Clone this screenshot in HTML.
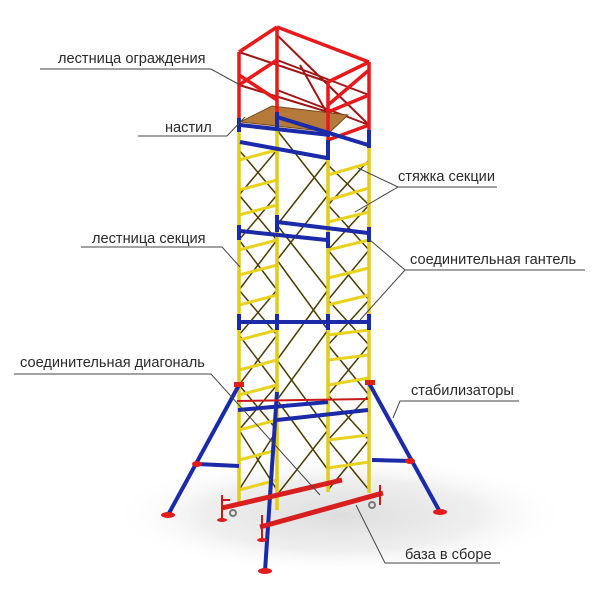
<!DOCTYPE html>
<html><head><meta charset="utf-8"><style>
html,body{margin:0;padding:0;background:#fff;}
svg{display:block}
text{font-family:"Liberation Sans",sans-serif;font-size:14.6px;fill:#2a2a2a}
</style></head><body>
<svg width="600" height="600" viewBox="0 0 600 600" xmlns="http://www.w3.org/2000/svg">
<defs>
<radialGradient id="sh" cx="0.5" cy="0.5" r="0.5">
<stop offset="0" stop-color="#dedede"/><stop offset="0.6" stop-color="#efefef"/><stop offset="1" stop-color="#fff" stop-opacity="0"/>
</radialGradient>
</defs>
<ellipse cx="340" cy="515" rx="230" ry="60" fill="url(#sh)"/>

<g stroke="#4a3c00" stroke-width="1.5" fill="none">
<polyline points="239,150 277,195 239,240 277,290 239,335 277,385 239,430 277,490"/>
<polyline points="277,150 239,195 277,240 239,290 277,335 239,385 277,430 239,490"/>
<polyline points="277,130 328,195 277,260 328,330 277,400 328,470"/>
<polyline points="328,160 277,225 328,290 277,360 328,430 277,495"/>
<polyline points="328,165 369,205 328,250 369,300 328,345 369,395 328,440 369,490"/>
<polyline points="369,160 328,205 369,250 328,300 369,345 328,395 369,440 328,490"/>
</g>

<g stroke="#e9d21e" stroke-width="3">
<line x1="239" y1="160" x2="277" y2="150"/><line x1="239" y1="190" x2="277" y2="180"/>
<line x1="239" y1="215" x2="277" y2="205"/><line x1="239" y1="250" x2="277" y2="240"/>
<line x1="239" y1="275" x2="277" y2="265"/><line x1="239" y1="305" x2="277" y2="295"/>
<line x1="239" y1="340" x2="277" y2="330"/><line x1="239" y1="370" x2="277" y2="360"/>
<line x1="239" y1="395" x2="277" y2="385"/><line x1="239" y1="430" x2="277" y2="420"/>
<line x1="239" y1="460" x2="277" y2="450"/><line x1="239" y1="490" x2="277" y2="480"/>
<line x1="328" y1="175" x2="369" y2="163"/><line x1="328" y1="200" x2="369" y2="188"/>
<line x1="328" y1="222" x2="369" y2="212"/><line x1="328" y1="250" x2="369" y2="240"/>
<line x1="328" y1="278" x2="369" y2="268"/><line x1="328" y1="305" x2="369" y2="295"/>
<line x1="328" y1="335" x2="369" y2="330"/><line x1="328" y1="360" x2="369" y2="355"/>
<line x1="328" y1="385" x2="369" y2="378"/><line x1="328" y1="415" x2="369" y2="410"/>
<line x1="328" y1="440" x2="369" y2="435"/><line x1="328" y1="468" x2="369" y2="462"/>
</g>

<g stroke="#a01515" stroke-width="2">
<line x1="239" y1="52" x2="328" y2="82"/><line x1="239" y1="85" x2="328" y2="112"/>
<line x1="277" y1="60" x2="369" y2="95"/><line x1="277" y1="90" x2="369" y2="125"/>
<line x1="277" y1="35" x2="369" y2="125"/><line x1="300" y1="65" x2="328" y2="115"/>
</g>
<g stroke="#e8191b" stroke-width="3.5" fill="none">
<line x1="239" y1="52" x2="277" y2="27"/><line x1="277" y1="27" x2="369" y2="62"/>
<line x1="328" y1="82" x2="369" y2="62"/><line x1="328" y1="112" x2="369" y2="95"/>
<line x1="328" y1="140" x2="369" y2="125"/><line x1="239" y1="85" x2="277" y2="60"/>
<line x1="239" y1="75" x2="277" y2="100"/><line x1="328" y1="105" x2="369" y2="70"/>
</g>
<polygon points="240,122 272,106 348,115 330,132" fill="#b5793a" stroke="#7a4a1a"/>

<g stroke-width="3.5">
<line x1="239" y1="52" x2="239" y2="123" stroke="#e8191b"/>
<line x1="277" y1="27" x2="277" y2="117" stroke="#e8191b"/>
<line x1="328" y1="82" x2="328" y2="147" stroke="#e8191b"/>
<line x1="369" y1="62" x2="369" y2="137" stroke="#e8191b"/>
<line x1="239" y1="123" x2="239" y2="505" stroke="#e2cc1a"/>
<line x1="277" y1="117" x2="277" y2="510" stroke="#e2cc1a"/>
<line x1="328" y1="147" x2="328" y2="492" stroke="#e2cc1a"/>
<line x1="369" y1="137" x2="369" y2="493" stroke="#e2cc1a"/>
</g>

<g stroke="#1a2aa8" stroke-width="4">
<line x1="240" y1="142" x2="327" y2="158"/><line x1="277" y1="117" x2="368" y2="145"/>
<line x1="240" y1="125" x2="330" y2="135"/>
<line x1="240" y1="231" x2="327" y2="240"/><line x1="277" y1="222" x2="368" y2="233"/>
<line x1="238" y1="322" x2="369" y2="322"/>
<line x1="238" y1="410" x2="328" y2="402"/><line x1="277" y1="420" x2="368" y2="410"/>
<line x1="239" y1="118" x2="239" y2="132"/><line x1="277" y1="112" x2="277" y2="128"/>
<line x1="328" y1="140" x2="328" y2="160"/><line x1="369" y1="130" x2="369" y2="148"/>
<line x1="239" y1="225" x2="239" y2="240"/><line x1="277" y1="215" x2="277" y2="232"/>
<line x1="328" y1="232" x2="328" y2="248"/><line x1="369" y1="227" x2="369" y2="242"/>
<line x1="239" y1="314" x2="239" y2="330"/><line x1="277" y1="314" x2="277" y2="330"/>
<line x1="328" y1="314" x2="328" y2="330"/><line x1="369" y1="314" x2="369" y2="330"/>
<line x1="168" y1="515" x2="239" y2="385"/><line x1="197" y1="464" x2="239" y2="466"/>
<line x1="440" y1="512" x2="369" y2="383"/><line x1="372" y1="460" x2="412" y2="461"/>
<line x1="277" y1="392" x2="265" y2="571"/>
</g>
<line x1="237" y1="401" x2="368" y2="399" stroke="#c81a1a" stroke-width="2"/>

<g stroke="#d81e1e" stroke-width="5">
<line x1="222" y1="508" x2="342" y2="480"/><line x1="260" y1="527" x2="383" y2="493"/>
</g>
<g stroke="#c81a1a" stroke-width="2">
<line x1="222" y1="495" x2="222" y2="520"/><line x1="222" y1="500" x2="230" y2="500"/>
<line x1="262" y1="515" x2="262" y2="540"/><line x1="380" y1="485" x2="380" y2="505"/>
</g>
<g fill="#e21b1b">
<ellipse cx="168" cy="515" rx="7" ry="3"/><ellipse cx="440" cy="512" rx="7" ry="3"/>
<ellipse cx="265" cy="571" rx="7" ry="3"/><ellipse cx="222" cy="520" rx="5" ry="2"/>
<ellipse cx="262" cy="540" rx="5" ry="2"/><ellipse cx="197" cy="464" rx="5" ry="3"/>
<ellipse cx="410" cy="461" rx="5" ry="3"/><rect x="234" y="382" width="10" height="5"/>
<rect x="365" y="380" width="10" height="5"/>
</g>
<circle cx="233" cy="513" r="3" fill="none" stroke="#777" stroke-width="2"/>
<circle cx="372" cy="505" r="3" fill="none" stroke="#777" stroke-width="2"/>

<g stroke="#444" stroke-width="1" fill="none">
<polyline points="40,69 211,69 240,85"/>
<polyline points="138,136 227,136 245,117"/>
<polyline points="497,187 398,187 358,168"/><line x1="398" y1="187" x2="355" y2="212"/>
<polyline points="81,247 222,247 240,267"/>
<polyline points="585,270 405,270 370,240"/><line x1="405" y1="270" x2="360" y2="320"/>
<polyline points="14,374 211,374 320,495"/>
<polyline points="519,401 400,401 393,418"/>
<polyline points="500,563 385,563 356,505"/>
</g>
<text x="58" y="63">лестница ограждения</text>
<text x="165" y="132">настил</text>
<text x="398" y="181">стяжка секции</text>
<text x="92" y="243">лестница секция</text>
<text x="410" y="264">соединительная гантель</text>
<text x="20" y="367">соединительная диагональ</text>
<text x="411" y="395">стабилизаторы</text>
<text x="405" y="559">база в сборе</text>
</svg>
</body></html>
